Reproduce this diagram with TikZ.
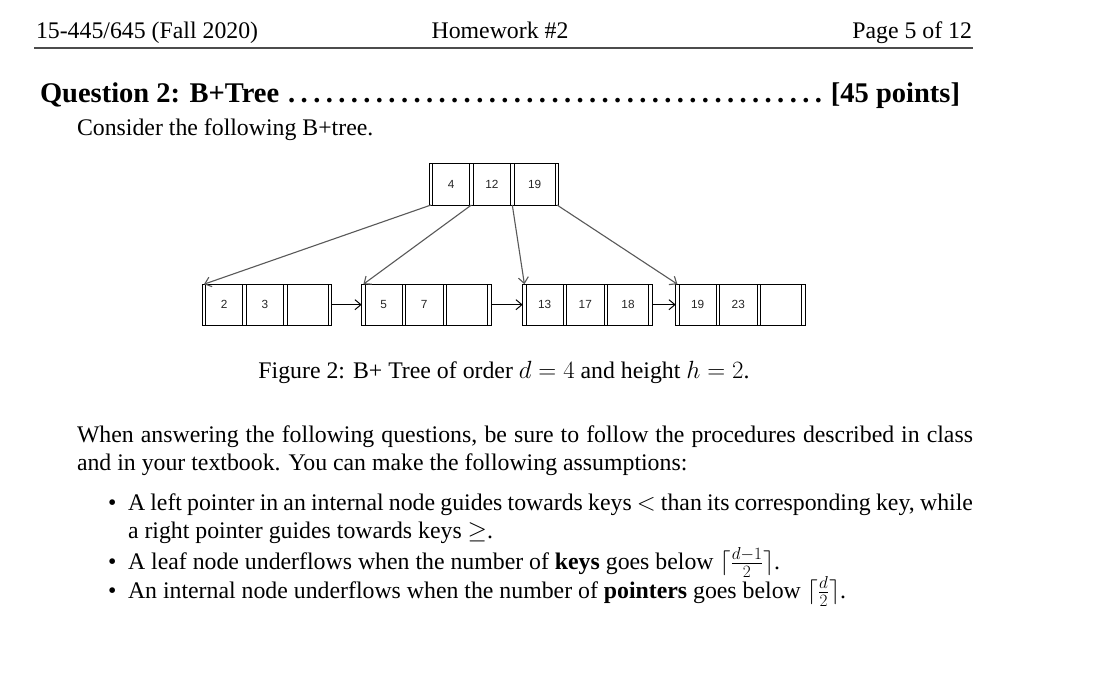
\documentclass[tikz,border=0pt]{standalone}
\usepackage[no-math]{fontspec}
\setmainfont{Liberation Serif}
\newfontfamily\treefont{Liberation Sans}
\usetikzlibrary{arrows.meta}
\tikzset{
  txt/.style={inner sep=0pt, outer sep=0pt, font=\fontsize{23.8}{28}\selectfont},
  ptr/.style={draw, line width=1pt, minimum width=3.4pt, minimum height=41pt, inner sep=0pt, outer sep=0pt},
  keycell/.style={draw, line width=1pt, minimum height=41pt, inner sep=0pt, outer sep=0pt, font=\treefont\fontsize{11.8}{12}\selectfont, text=black!85},
  down/.style={draw=black!65, line width=1.1pt, -{Straight Barb[length=6pt,width=10pt]}},
  side/.style={draw=black, line width=1pt, -{Straight Barb[length=6pt,width=10pt]}}
}
\newcommand\bptnode[6]{%
  \node[ptr,anchor=west] (#1-p0) at (#2,#3) {};
  \node[keycell,minimum width=37pt,anchor=west] (#1-k1) at (#1-p0.east) {#4};
  \node[ptr,anchor=west] (#1-p1) at (#1-k1.east) {};
  \node[keycell,minimum width=37.5pt,anchor=west] (#1-k2) at (#1-p1.east) {#5};
  \node[ptr,anchor=west] (#1-p2) at (#1-k2.east) {};
  \node[keycell,minimum width=41.3pt,anchor=west] (#1-k3) at (#1-p2.east) {#6};
  \node[ptr,anchor=west] (#1-p3) at (#1-k3.east) {};
}
\begin{document}
\begin{tikzpicture}[x=1pt,y=-1pt]
\useasboundingbox[fill=white] (0,0) rectangle (1117,682);
% header
\node[txt,anchor=base west] (h1) at (36,38.5) {15-445/645 (Fall 2020)};
\node[txt,anchor=base] (h2) at (500,38.5) {Homework \#2};
\node[txt,anchor=base east] (h3) at (972,38.5) {Page 5 of 12};
\draw[line width=1.6pt, black!70] (34,48) -- (973,48);
% title
\node[txt,anchor=base west] (title) at (40,103) {\makebox[920pt][l]{\bfseries\fontsize{28.5}{34}\selectfont Question 2: B+Tree\dotfill[45 points]}};
\node[txt,anchor=base west] (consider) at (77,136) {Consider the following B+tree.};
% tree
\bptnode{root}{429.3}{184.5}{4}{12}{19}
\bptnode{la}{202.3}{304.7}{2}{3}{}
\bptnode{lb}{361.7}{304.7}{5}{7}{}
\bptnode{lc}{522.7}{304.7}{13}{17}{18}
\bptnode{ld}{675.7}{304.7}{19}{23}{}
\draw[down] (root-p0.south) -- (la-p0.north);
\draw[down] (root-p1.south) -- (lb-p0.north);
\draw[down] (root-p2.south) -- (lc-p0.north);
\draw[down] (root-p3.south) -- (ld-p0.north);
\draw[side] (la-p3.east) -- (lb-p0.west);
\draw[side] (lb-p3.east) -- (lc-p0.west);
\draw[side] (lc-p3.east) -- (ld-p0.west);
% caption
\node[txt,anchor=base] (cap) at (504,378) {Figure 2: B+ Tree of order $d = 4$ and height $h = 2$.};
% paragraph
\node[txt,anchor=base west] (p1) at (77,442) {\makebox[896pt][s]{When answering the following questions, be sure to follow the procedures described in class}};
\node[txt,anchor=base west] (p2) at (77,470) {and in your textbook. You can make the following assumptions:};
% bullets
\node[txt,anchor=base west] (b1) at (108,510) {\textbullet};
\node[txt,anchor=base west] (t1) at (128,510) {\makebox[845pt][s]{A left pointer in an internal node guides towards keys $<$ than its corresponding key, while}};
\node[txt,anchor=base west] (t1b) at (128,538) {a right pointer guides towards keys $\geq$.};
\node[txt,anchor=base west] (b2) at (108,569) {\textbullet};
\node[txt,anchor=base west] (t2) at (128,569) {A leaf node underflows when the number of \textbf{keys} goes below $\lceil\frac{d-1}{2}\rceil$.};
\node[txt,anchor=base west] (b3) at (108,598) {\textbullet};
\node[txt,anchor=base west] (t3) at (128,598) {An internal node underflows when the number of \textbf{pointers} goes below $\lceil\frac{d}{2}\rceil$.};
\end{tikzpicture}
\end{document}
